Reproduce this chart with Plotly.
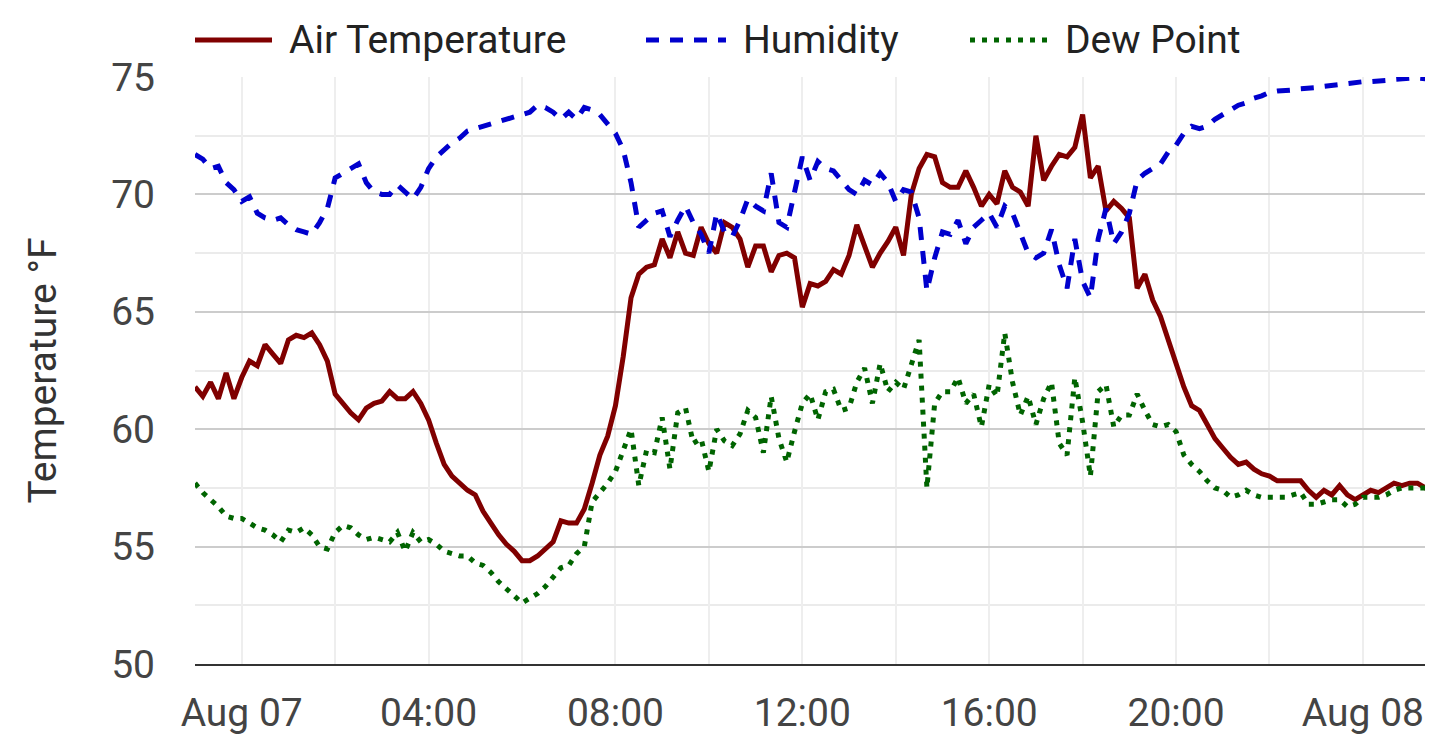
import pandas as pd
import plotly.graph_objects as go

# 10-minute readings, 2024-08-06 23:00 -> 2024-08-08 01:30
times = pd.date_range("2024-08-06 23:00", "2024-08-08 01:30", freq="10min")

air_temp = [
    61.8, 61.4, 62.0, 61.3, 62.4, 61.3,
    62.2, 62.9, 62.7, 63.6, 63.2, 62.8,
    63.8, 64.0, 63.9, 64.1, 63.6, 62.9,
    61.5, 61.1, 60.7, 60.4, 60.9, 61.1,
    61.2, 61.6, 61.3, 61.3, 61.6, 61.1,
    60.4, 59.4, 58.5, 58.0, 57.7, 57.4,
    57.2, 56.5, 56.0, 55.5, 55.1, 54.8,
    54.4, 54.4, 54.6, 54.9, 55.2, 56.1,
    56.0, 56.0, 56.6, 57.7, 58.9, 59.7,
    61.0, 63.1, 65.6, 66.6, 66.9, 67.0,
    68.1, 67.3, 68.4, 67.5, 67.4, 68.6,
    67.9, 67.5, 68.8, 68.6, 68.1, 66.9,
    67.8, 67.8, 66.7, 67.4, 67.5, 67.3,
    65.2, 66.2, 66.1, 66.3, 66.8, 66.6,
    67.4, 68.7, 67.8, 66.9, 67.5, 68.0,
    68.6, 67.4, 70.0, 71.1, 71.7, 71.6,
    70.5, 70.3, 70.3, 71.0, 70.3, 69.5,
    70.0, 69.6, 71.0, 70.3, 70.1, 69.5,
    72.5, 70.6, 71.2, 71.7, 71.6, 72.0,
    73.4, 70.7, 71.2, 69.3, 69.7, 69.4,
    69.0, 66.0, 66.6, 65.5, 64.8, 63.8,
    62.7, 61.8, 61.0, 60.8, 60.2, 59.6,
    59.2, 58.8, 58.5, 58.6, 58.3, 58.1,
    58.0, 57.8, 57.8, 57.8, 57.8, 57.4,
    57.1, 57.4, 57.2, 57.6, 57.2, 57.0,
    57.2, 57.4, 57.3, 57.5, 57.7, 57.6,
    57.7, 57.7, 57.5, 57.4,
]

humidity = [
    71.7, 71.5, 71.1, 71.2, 70.5, 70.2,
    69.7, 69.9, 69.2, 69.0, 68.9, 69.0,
    68.7, 68.5, 68.4, 68.3, 68.8, 69.4,
    70.7, 70.9, 71.1, 71.3, 70.5, 70.1,
    70.0, 70.0, 70.4, 70.1, 69.8, 70.3,
    71.1, 71.6, 71.9, 72.2, 72.4, 72.7,
    72.8, 72.9, 73.0, 73.1, 73.2, 73.3,
    73.4, 73.5, 73.8, 73.7, 73.5, 73.2,
    73.5, 73.2, 73.7, 73.6, 73.4, 73.0,
    72.6, 71.9, 70.5, 68.6, 68.9, 69.2,
    69.3, 68.2, 68.9, 69.5, 68.8, 68.3,
    67.5, 69.2, 68.4, 68.2, 68.9, 69.8,
    69.5, 69.3, 70.9, 68.8, 68.6, 70.2,
    71.6, 70.6, 71.4, 71.1, 71.0, 70.6,
    70.2, 70.0, 70.6, 70.4, 70.9, 70.5,
    69.7, 70.2, 70.1, 69.0, 65.9, 67.3,
    68.4, 68.3, 68.9, 67.9, 68.6, 68.9,
    69.2, 68.6, 69.5, 69.2, 68.3, 67.5,
    67.3, 67.5, 68.5, 67.0, 66.0, 68.1,
    66.3, 65.6, 68.1, 69.4, 67.9, 68.4,
    69.2, 70.6, 70.9, 71.1, 71.3, 71.8,
    72.1, 72.6, 72.9, 72.8, 72.9, 73.2,
    73.4, 73.6, 73.8, 73.9, 74.1, 74.2,
    74.35, 74.4, 74.4, 74.45, 74.5, 74.5,
    74.55, 74.6, 74.65, 74.7, 74.7, 74.75,
    74.8, 74.8, 74.8, 74.85, 74.9, 74.95,
    74.95, 74.95, 74.9, 74.9,
]

dew_point = [
    57.7, 57.3, 57.0, 56.7, 56.3, 56.2,
    56.2, 56.0, 55.8, 55.7, 55.5, 55.2,
    55.7, 55.6, 55.8, 55.5, 55.0, 54.9,
    55.6, 55.9, 55.8, 55.5, 55.3, 55.4,
    55.3, 55.2, 55.6, 54.8, 55.6, 55.2,
    55.3, 55.1, 54.8, 54.7, 54.6, 54.6,
    54.3, 54.2, 53.9, 53.5, 53.2, 52.9,
    52.6, 52.8, 53.0, 53.3, 53.7, 54.1,
    54.2, 54.7, 55.0, 56.9, 57.3, 57.7,
    58.2, 59.1, 60.0, 57.6, 59.1, 59.0,
    60.5, 58.3, 60.7, 60.9, 59.4, 59.6,
    58.2, 60.0, 59.5, 59.3, 59.8, 60.8,
    60.5, 59.0, 61.4, 59.6, 58.6, 59.9,
    61.1, 61.5, 60.4, 61.6, 61.7, 60.8,
    60.9, 62.0, 62.6, 61.1, 62.8, 61.6,
    62.0, 61.7, 62.8, 63.8, 57.5, 61.1,
    61.6, 61.6, 62.2, 61.1, 61.5, 60.1,
    61.9, 61.4, 64.1, 62.0, 60.6, 61.4,
    60.2, 61.3, 62.0, 59.4, 58.9, 62.2,
    60.3, 58.0, 61.6, 61.9, 60.1, 60.6,
    60.6, 61.5, 60.8, 60.2, 60.1, 60.2,
    59.9, 58.9, 58.5, 58.2, 57.8, 57.5,
    57.4, 57.1, 57.2, 57.4, 57.2, 57.1,
    57.1, 57.1, 57.1, 57.2, 57.3, 56.8,
    56.8, 56.9, 57.0, 57.0, 56.7, 56.8,
    57.1, 57.1, 57.1, 57.2, 57.4, 57.5,
    57.5, 57.5, 57.5, 57.5,
]

tick_times = pd.date_range("2024-08-07 00:00", "2024-08-08 00:00", freq="2h")
tick_text = ["Aug 07", "", "04:00", "", "08:00", "", "12:00", "",
             "16:00", "", "20:00", "", "Aug 08"]

series = [
    ("Air Temperature", air_temp, "#800000", "solid", 5),
    ("Humidity", humidity, "#0000cd", "13px,11px", 5),
    ("Dew Point", dew_point, "#006400", "5px,7px", 5),
]

# page has an 8px body margin, so the figure is a bit smaller than the window
OFF = 8
W, H = 1433 - OFF, 751 - 2 * OFF
L, R, T = 195 - OFF, 0, 77 - OFF
B = H - (664 - OFF)
PW, PH = W - L - R, H - T - B


def px_x(x):
    return (x - OFF - L) / PW


def px_y(y):
    return (H - B - (y - OFF)) / PH


fig = go.Figure()
for name, vals, color, dash, width in series:
    fig.add_trace(go.Scatter(
        x=times, y=vals, name=name, mode="lines",
        line=dict(color=color, dash=dash, width=width),
        showlegend=False,
    ))

# legend drawn by hand so the line samples are long like the original
legend_items = [(195, 272, 287), (646, 726, 741), (970, 1048, 1063)]
shapes = []
annotations = []
for (x0, x1, tx), (name, _, color, dash, width) in zip(legend_items, series):
    shapes.append(dict(type="line", xref="paper", yref="paper",
                       x0=px_x(x0), x1=px_x(x1), y0=px_y(40), y1=px_y(40),
                       line=dict(color=color, dash=dash, width=width)))
    annotations.append(dict(text=name, xref="paper", yref="paper",
                            x=px_x(tx), y=px_y(40), xanchor="left",
                            yanchor="middle", showarrow=False,
                            font=dict(size=39, color="#222222")))

fig.update_layout(
    width=W, height=H,
    margin=dict(l=L, r=R, t=T, b=B),
    plot_bgcolor="white", paper_bgcolor="white",
    font=dict(family="Roboto", size=39, color="#444444"),
    shapes=shapes,
    annotations=annotations,
    xaxis=dict(
        range=[times[0], times[-1]],
        tickmode="array", tickvals=tick_times, ticktext=tick_text,
        showgrid=True, gridcolor="#eeeeee", gridwidth=2,
        showline=True, linecolor="#333333", linewidth=2,
        ticks="", ticklabelstandoff=13,
        zeroline=False,
    ),
    yaxis=dict(
        range=[50, 75], dtick=5,
        showgrid=True, gridcolor="#cccccc", gridwidth=2,
        minor=dict(dtick=2.5, showgrid=True, gridcolor="#ebebeb", gridwidth=2),
        showline=False, zeroline=False,
        ticks="", ticklabelstandoff=39,
        title=dict(text="Temperature °F", standoff=42,
                   font=dict(size=39, color="#333333")),
    ),
)

fig.write_html("out.html")
